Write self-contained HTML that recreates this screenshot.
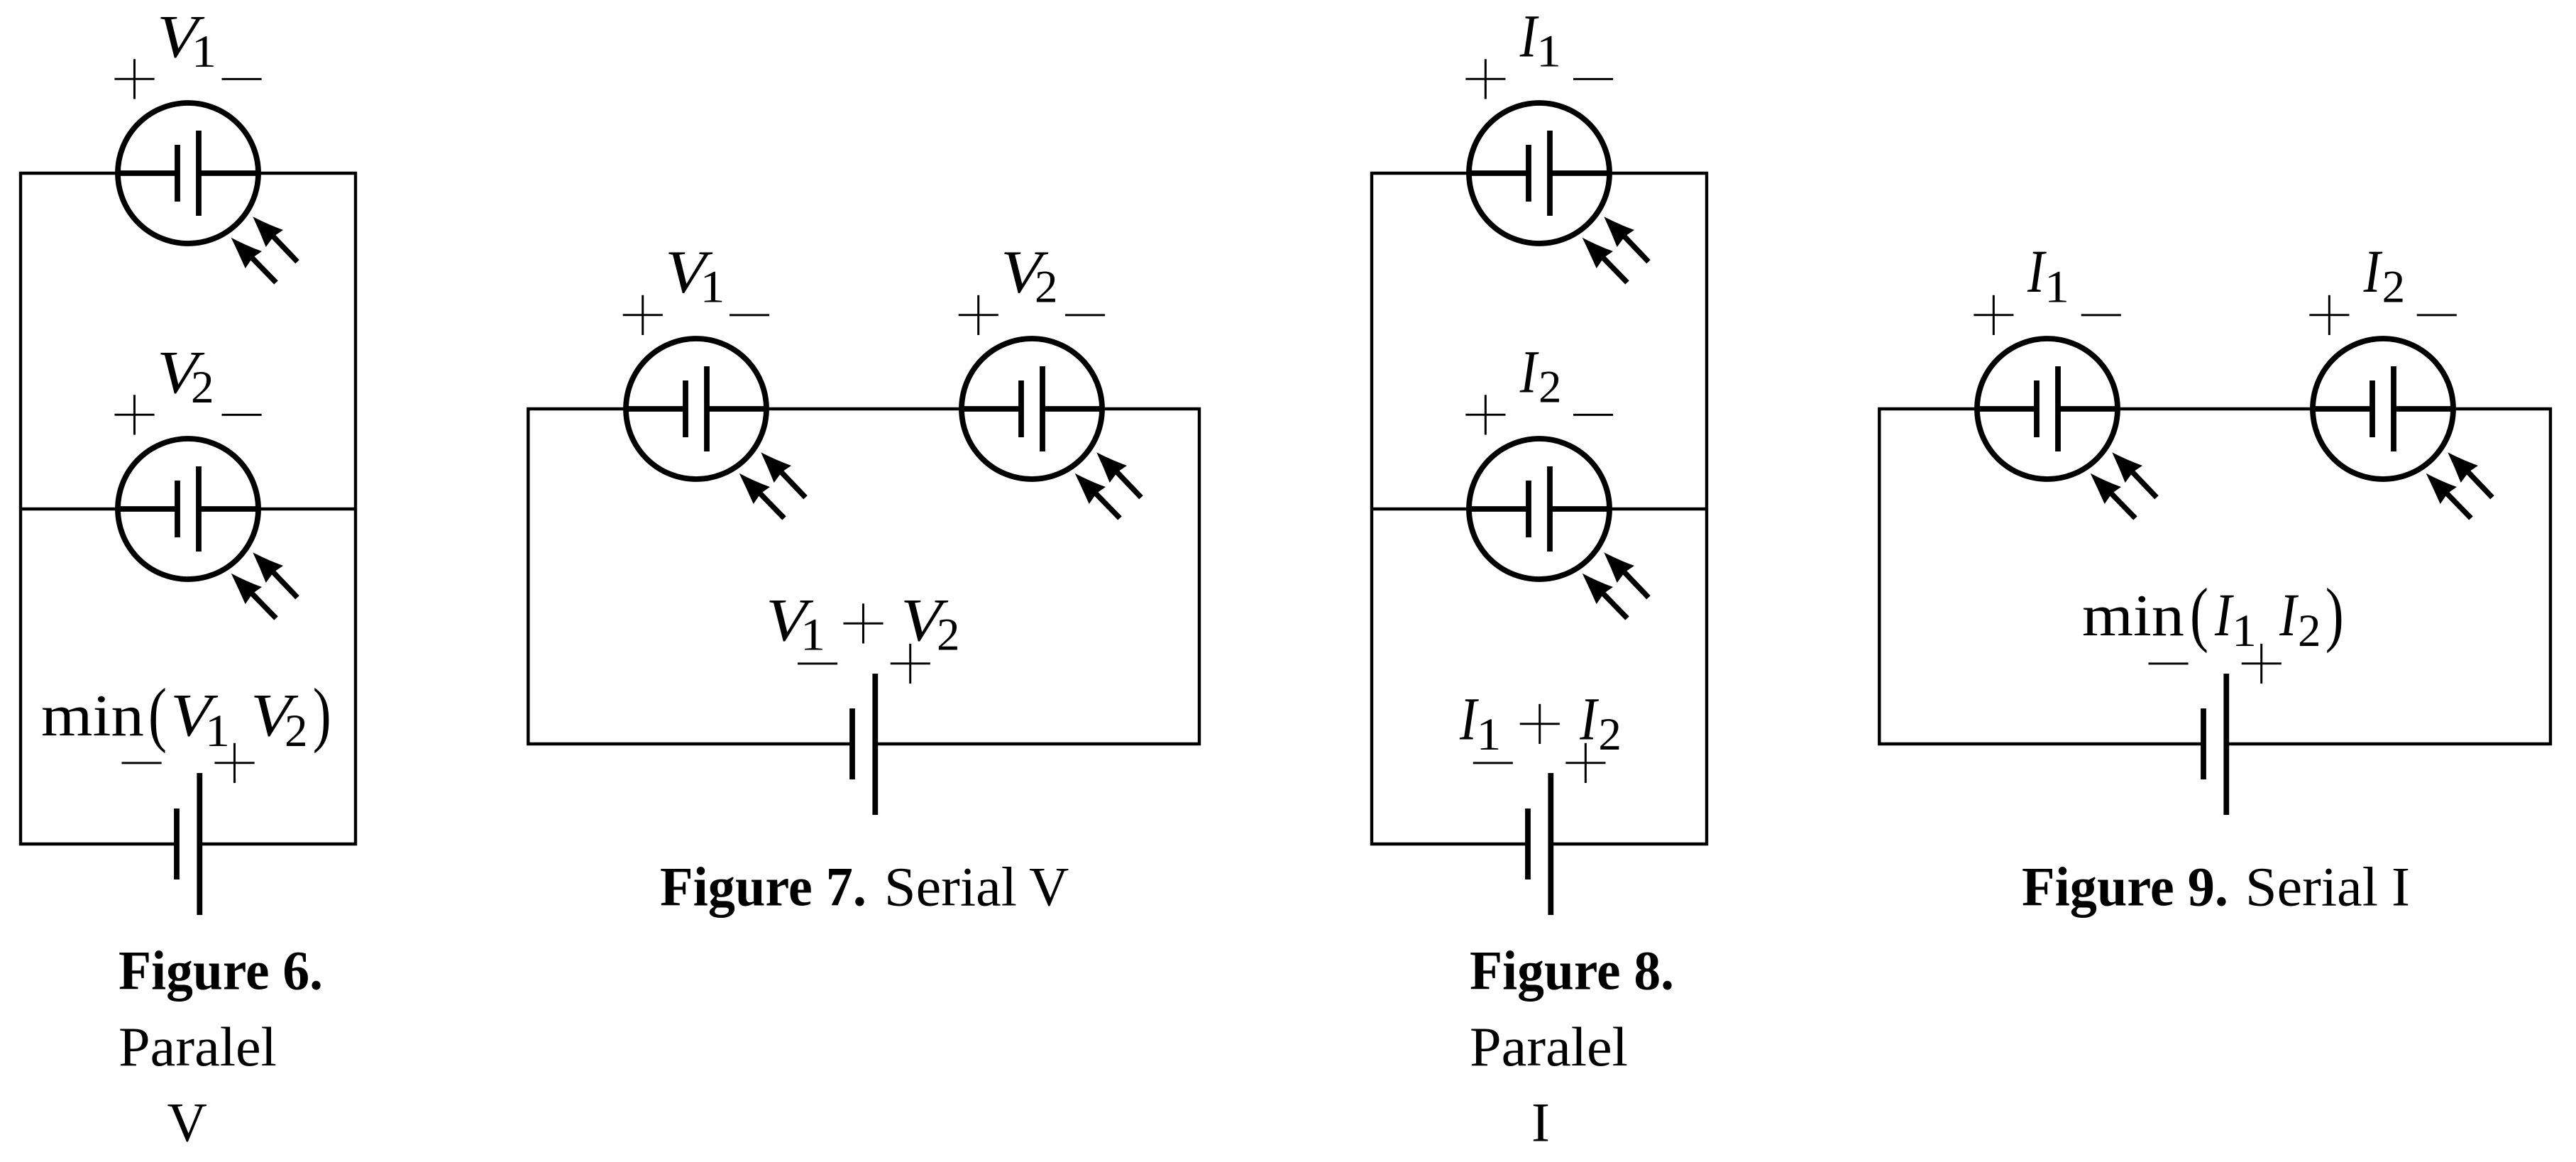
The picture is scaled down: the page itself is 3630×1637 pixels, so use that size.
<!DOCTYPE html>
<html lang="en">
<head>
<meta charset="utf-8">
<title>Figures 6–9</title>
<style>
html,body{margin:0;padding:0;background:#fff;width:3630px;height:1637px;overflow:hidden}
svg{display:block}
text{font-family:"Liberation Serif",serif;fill:#000}
.s{font-size:128px;text-anchor:middle;stroke:#fff;stroke-width:3.4px}
.v{font-size:86px;font-style:italic}
.d{font-size:65px}
.m{font-size:84px}
.p{font-size:102px}
.c{font-size:78px}
.b{font-size:78px;font-weight:bold}
.w{fill:none;stroke:#000;stroke-width:4.4;stroke-linejoin:miter}
.t{fill:none;stroke:#000;stroke-width:7.8}
</style>
</head>
<body>
<svg xmlns="http://www.w3.org/2000/svg" width="3630" height="1637" viewBox="0 0 3630 1637">
<rect width="3630" height="1637" fill="#fff"/>
<defs>
<g id="cell">
  <circle r="99" fill="none" stroke="#000" stroke-width="7.8"/>
  <path class="t" d="M-100 0H-15M15 0H100M-15 -40V40M15 -60V60"/>
  <path d="M91.300 61.300Q112 72 134 80L120.700 89L109.700 104Q101 82 91.300 61.300Z"/>
  <path d="M60.700 90.700Q82 102 104 110L91 119L80.700 134Q71 112 60.700 90.700Z"/>
  <path d="M118 87L154 124.700M87 116L124 154" stroke="#000" stroke-width="7.6" fill="none"/>
</g>
</defs>

<!-- wires -->
<path class="w" d="M249 1189H29V244H163M367 244H501V1189H281M29 717H163M367 717H501"/>
<path class="w" d="M1201 1048H744.300V576H879M1083 576H1352M1556 576H1690V1048H1233"/>
<path class="w" d="M2153 1189H1933V244H2067M2271 244H2405V1189H2185M1933 717H2067M2271 717H2405"/>
<path class="w" d="M3105 1048H2648.300V576H2783M2987 576H3256M3460 576H3594V1048H3137"/>

<!-- cells -->
<use href="#cell" x="265" y="244"/>
<use href="#cell" x="265" y="717"/>
<use href="#cell" x="981" y="576"/>
<use href="#cell" x="1454" y="576"/>
<use href="#cell" x="2169" y="244"/>
<use href="#cell" x="2169" y="717"/>
<use href="#cell" x="2885" y="576"/>
<use href="#cell" x="3358" y="576"/>

<!-- batteries -->
<path class="t" d="M249 1139V1239M281.300 1089V1289"/>
<path class="t" d="M1201 998V1098M1233.300 949V1148"/>
<path class="t" d="M2153 1139V1239M2185.300 1089V1289"/>
<path class="t" d="M3105 998V1098M3137.300 949V1148"/>

<!-- plus / minus marks -->
<g transform="translate(0,11.600)">
<text class="s" x="189.500" y="142.400">+</text><text class="s" x="340.500" y="142.400">−</text>
<text class="s" x="189.500" y="615.400">+</text><text class="s" x="340.500" y="615.400">−</text>
<text class="s" x="199.500" y="1105.700">−</text><text class="s" x="330.500" y="1105.700">+</text>

<text class="s" x="905.700" y="474.700">+</text><text class="s" x="1056" y="474.700">−</text>
<text class="s" x="1378.700" y="474.700">+</text><text class="s" x="1529" y="474.700">−</text>
<text class="s" x="1152" y="965.700">−</text><text class="s" x="1282.700" y="965.700">+</text>
<text class="s" x="1216.500" y="909.400">+</text>

<text class="s" x="2093.300" y="142.400">+</text><text class="s" x="2245" y="142.400">−</text>
<text class="s" x="2093.300" y="615.400">+</text><text class="s" x="2245" y="615.400">−</text>
<text class="s" x="2103.700" y="1105.700">−</text><text class="s" x="2234.300" y="1105.700">+</text>
<text class="s" x="2169.700" y="1050.700">+</text>

<text class="s" x="2809.300" y="474.700">+</text><text class="s" x="2960.700" y="474.700">−</text>
<text class="s" x="3282.300" y="474.700">+</text><text class="s" x="3433.700" y="474.700">−</text>
<text class="s" x="3055.500" y="965.700">−</text><text class="s" x="3186.700" y="965.700">+</text>
</g>

<!-- Figure 6 labels -->
<text class="v" x="221.300" y="80" textLength="58" lengthAdjust="spacingAndGlyphs">V</text>
<text class="d" x="270" y="94" textLength="35" lengthAdjust="spacingAndGlyphs">1</text>
<text class="v" x="221.300" y="553" textLength="58" lengthAdjust="spacingAndGlyphs">V</text>
<text class="d" x="269" y="567">2</text>
<text class="m" x="58" y="1036" textLength="145" lengthAdjust="spacingAndGlyphs">min</text>
<text class="p" x="209" y="1039.600" textLength="26" lengthAdjust="spacingAndGlyphs">(</text>
<text class="v" x="240.300" y="1036" textLength="58" lengthAdjust="spacingAndGlyphs">V</text>
<text class="d" x="289" y="1051" textLength="35" lengthAdjust="spacingAndGlyphs">1</text>
<text class="v" x="353.300" y="1036" textLength="58" lengthAdjust="spacingAndGlyphs">V</text>
<text class="d" x="401" y="1051">2</text>
<text class="p" x="440.700" y="1039.600" textLength="26" lengthAdjust="spacingAndGlyphs">)</text>
<text class="b" x="167" y="1393.500" textLength="288" lengthAdjust="spacingAndGlyphs">Figure 6.</text>
<text class="c" x="167" y="1501" textLength="223" lengthAdjust="spacingAndGlyphs">Paralel</text>
<text class="c" x="235.500" y="1607.500">V</text>

<!-- Figure 7 labels -->
<text class="v" x="937.300" y="411.700" textLength="58" lengthAdjust="spacingAndGlyphs">V</text>
<text class="d" x="986.500" y="425.700" textLength="35" lengthAdjust="spacingAndGlyphs">1</text>
<text class="v" x="1410.300" y="411.700" textLength="58" lengthAdjust="spacingAndGlyphs">V</text>
<text class="d" x="1458" y="425.700">2</text>
<text class="v" x="1079.300" y="902" textLength="58" lengthAdjust="spacingAndGlyphs">V</text>
<text class="d" x="1128" y="915.700" textLength="35" lengthAdjust="spacingAndGlyphs">1</text>
<text class="v" x="1269.300" y="902" textLength="58" lengthAdjust="spacingAndGlyphs">V</text>
<text class="d" x="1320" y="915.700">2</text>
<text class="b" x="930" y="1275.500" textLength="291" lengthAdjust="spacingAndGlyphs">Figure 7.</text>
<text class="c" x="1246" y="1275.500" textLength="187" lengthAdjust="spacingAndGlyphs">Serial</text>
<text class="c" x="1450" y="1275.500">V</text>

<!-- Figure 8 labels -->
<text class="v" x="2141.700" y="79.500" textLength="24" lengthAdjust="spacingAndGlyphs">I</text>
<text class="d" x="2165" y="93.500" textLength="35" lengthAdjust="spacingAndGlyphs">1</text>
<text class="v" x="2141.700" y="552.500" textLength="24" lengthAdjust="spacingAndGlyphs">I</text>
<text class="d" x="2168" y="566.500">2</text>
<text class="v" x="2057" y="1041.700" textLength="24" lengthAdjust="spacingAndGlyphs">I</text>
<text class="d" x="2080.500" y="1056" textLength="35" lengthAdjust="spacingAndGlyphs">1</text>
<text class="v" x="2226.300" y="1041.700" textLength="24" lengthAdjust="spacingAndGlyphs">I</text>
<text class="d" x="2252.400" y="1056">2</text>
<text class="b" x="2071" y="1393.500" textLength="288" lengthAdjust="spacingAndGlyphs">Figure 8.</text>
<text class="c" x="2071" y="1501" textLength="223" lengthAdjust="spacingAndGlyphs">Paralel</text>
<text class="c" x="2158" y="1607.500">I</text>

<!-- Figure 9 labels -->
<text class="v" x="2857" y="411" textLength="24" lengthAdjust="spacingAndGlyphs">I</text>
<text class="d" x="2881" y="425.700" textLength="35" lengthAdjust="spacingAndGlyphs">1</text>
<text class="v" x="3330.600" y="411" textLength="24" lengthAdjust="spacingAndGlyphs">I</text>
<text class="d" x="3356.600" y="425.700">2</text>
<text class="m" x="2934" y="895" textLength="144" lengthAdjust="spacingAndGlyphs">min</text>
<text class="p" x="3086" y="898.600" textLength="26" lengthAdjust="spacingAndGlyphs">(</text>
<text class="v" x="3121" y="895" textLength="24" lengthAdjust="spacingAndGlyphs">I</text>
<text class="d" x="3145" y="910" textLength="35" lengthAdjust="spacingAndGlyphs">1</text>
<text class="v" x="3212.300" y="895" textLength="24" lengthAdjust="spacingAndGlyphs">I</text>
<text class="d" x="3238" y="910">2</text>
<text class="p" x="3276.700" y="898.600" textLength="26" lengthAdjust="spacingAndGlyphs">)</text>
<text class="b" x="2849" y="1275.500" textLength="291" lengthAdjust="spacingAndGlyphs">Figure 9.</text>
<text class="c" x="3164" y="1275.500" textLength="187" lengthAdjust="spacingAndGlyphs">Serial</text>
<text class="c" x="3370" y="1275.500">I</text>
</svg>
</body>
</html>
